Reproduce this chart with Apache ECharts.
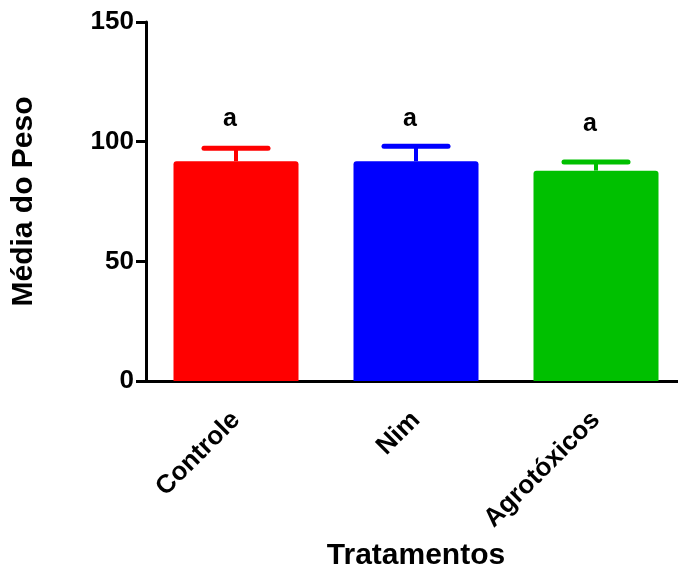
<!DOCTYPE html>
<html>
<head>
<meta charset="utf-8">
<script src="https://cdn.jsdelivr.net/npm/echarts@6/dist/echarts.min.js"></script>
<style>
  html, body { margin: 0; padding: 0; background: #fff; }
  #chart { width: 678px; height: 569px; }
</style>
</head>
<body>
<div id="chart"></div>
<script>
// tratamentos e médias
const categories = ['Controle', 'Nim', 'Agrotóxicos'];
const means = [91.8, 91.8, 87.9];
const errors = [5.5, 6.3, 3.6];
const letters = ['a', 'a', 'a'];
const letterY = [109.5, 109.5, 107.4];
const colors = ['#ff0000', '#0000ff', '#00c000'];

const FONT = 'Liberation Sans';

let chart = echarts.init(document.getElementById('chart'));

// barra de erro (só para cima)
function renderError(params, api) {
    let i = api.value(0);
    let top = api.coord([i, api.value(1) + api.value(2)]);
    let base = api.coord([i, api.value(1)]);
    let half = 32;
    let color = colors[i];
    return {
        type: 'group',
        children: [
            { type: 'line', shape: { x1: base[0], y1: base[1], x2: top[0], y2: top[1] },
              style: { stroke: color, lineWidth: 4 } },
            { type: 'line', shape: { x1: top[0] - half, y1: top[1], x2: top[0] + half, y2: top[1] },
              style: { stroke: color, lineWidth: 5, lineCap: 'round' } }
        ]
    };
}

// letra de significância acima de cada barra
function renderLetter(params, api) {
    let p = api.coord([api.value(0), api.value(1)]);
    return {
        type: 'text',
        x: p[0] - 6,
        y: p[1],
        style: {
            text: letters[params.dataIndex],
            fill: '#000',
            font: 'bold 25px "' + FONT + '"',
            align: 'center',
            verticalAlign: 'middle'
        }
    };
}

let option = {
    animation: false,
    grid: { left: 146, top: 22, bottom: 188, width: 540, outerBoundsMode: 'none', containLabel: false },
    xAxis: {
        type: 'category',
        data: categories,
        name: 'Tratamentos',
        nameLocation: 'middle',
        nameGap: 160,
        nameTextStyle: { fontFamily: FONT, fontWeight: 'bold', fontSize: 30, color: '#000' },
        axisLine: { lineStyle: { color: '#000', width: 3 } },
        axisTick: { alignWithLabel: true, length: 10, lineStyle: { color: '#000', width: 3 } },
        axisLabel: { rotate: 45, margin: 35, fontFamily: FONT, fontWeight: 'bold', fontSize: 26, color: '#000' }
    },
    yAxis: {
        type: 'value',
        min: 0,
        max: 150,
        interval: 50,
        name: 'Média do Peso',
        nameLocation: 'middle',
        nameGap: 107,
        nameTextStyle: { fontFamily: FONT, fontWeight: 'bold', fontSize: 30, color: '#000' },
        splitLine: { show: false },
        axisLine: { show: true, lineStyle: { color: '#000', width: 3 } },
        axisTick: { show: true, length: 10, lineStyle: { color: '#000', width: 3 } },
        axisLabel: { margin: 12, fontFamily: FONT, fontWeight: 'bold', fontSize: 26, color: '#000' }
    },
    series: [
        {
            type: 'bar',
            barWidth: 125,
            data: means.map((v, i) => ({ value: v, itemStyle: { color: colors[i], borderRadius: [3, 3, 0, 0] } }))
        },
        {
            type: 'custom',
            renderItem: renderError,
            data: means.map((v, i) => [i, v, errors[i]]),
            z: 1
        },
        {
            type: 'custom',
            renderItem: renderLetter,
            data: letterY.map((v, i) => [i, v]),
            z: 3
        }
    ]
};

chart.setOption(option);
</script>
</body>
</html>
